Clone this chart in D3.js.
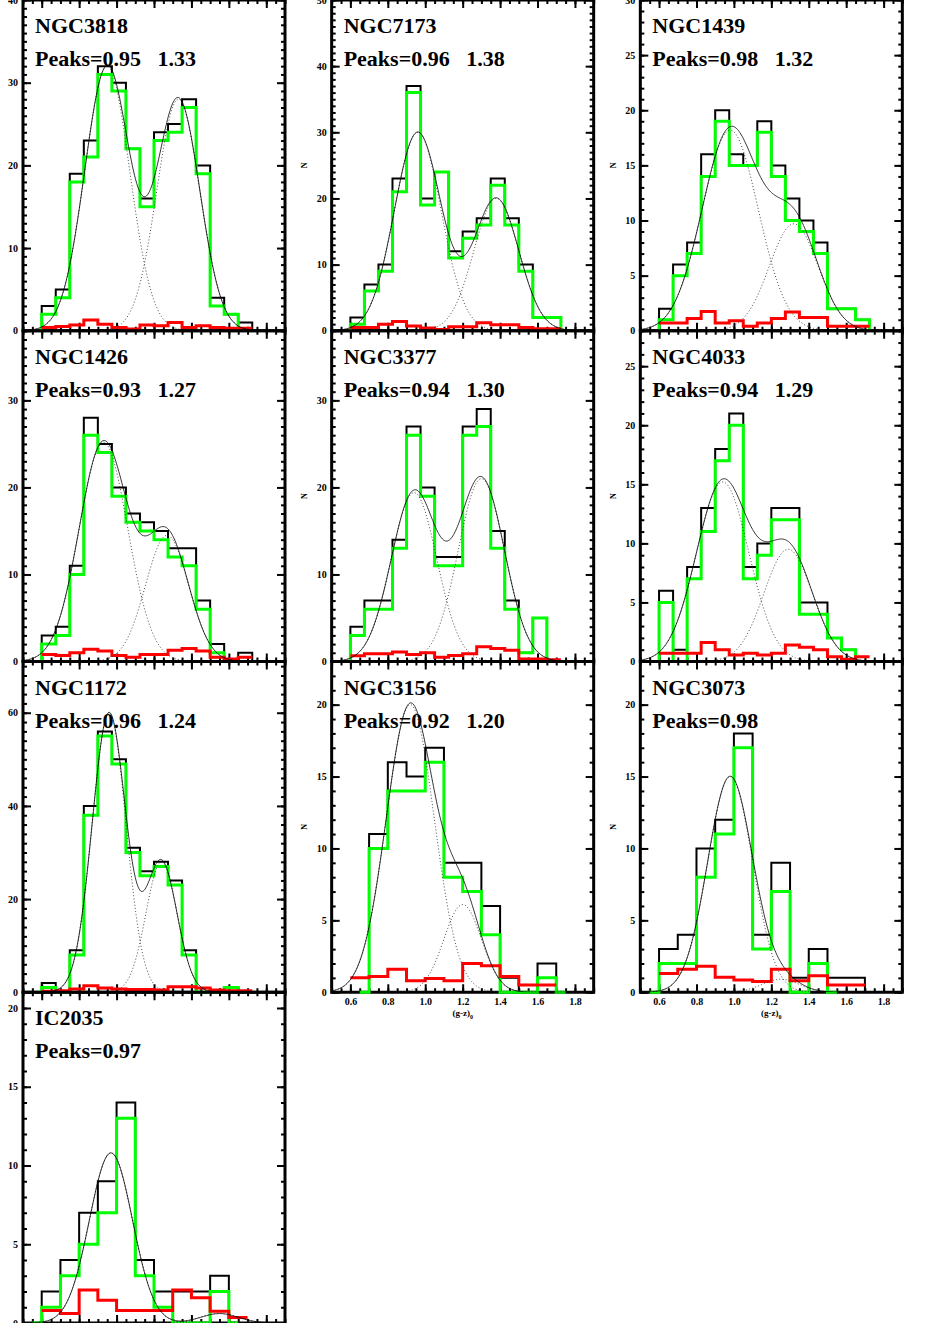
<!DOCTYPE html>
<html>
<head>
<meta charset="utf-8">
<script src="https://cdn.jsdelivr.net/npm/d3@7"></script>
<style>
body { margin: 0; background: #fff; }
svg { display: block; }
text { font-family: "Liberation Serif", "Times New Roman", serif; font-weight: bold; }
</style>
</head>
<body>
<svg id="chart"></svg>
<script>
// galaxies, in panel order (left to right, top to bottom)
var galaxies = ["NGC3818", "NGC7173", "NGC1439", "NGC1426", "NGC3377", "NGC4033",
                "NGC1172", "NGC3156", "NGC3073", "IC2035"];
var peakLabels = ["0.95   1.33", "0.96   1.38", "0.98   1.32", "0.93   1.27", "0.94   1.30",
                  "0.94   1.29", "0.96   1.24", "0.92   1.20", "0.98", "0.97"];

var xDomain = [0.5, 1.9];
var xMajor = [0.6, 0.8, 1.0, 1.2, 1.4, 1.6, 1.8];
var yMax = [40, 50, 30, 38, 38, 28, 71, 23, 23, 21];
var yStep = [10, 10, 5, 10, 10, 5, 20, 5, 5, 5];

var binWidth = [0.075, 0.075, 0.075, 0.075, 0.075, 0.075, 0.075, 0.1, 0.1, 0.1];
var totalLo = [0.6, 0.6, 0.6, 0.6, 0.6, 0.6, 0.6, 0.7, 0.6, 0.6];
var cleanLo = [0.6, 0.6, 0.6, 0.6, 0.6, 0.6, 0.6, 0.7, 0.6, 0.6];
var contamLo = [0.6, 0.6, 0.6, 0.6, 0.6, 0.6, 0.6, 0.6, 0.6, 0.6];

// black: all candidates
var totalCounts = [
  [3, 5, 19, 23, 32, 30, 22, 16, 24, 25, 28, 20, 4, 2, 1],
  [2, 7, 10, 23, 37, 20, 24, 12, 15, 17, 23, 17, 10, 2, 2],
  [2, 6, 8, 16, 20, 16, 15, 19, 15, 12, 10, 8, 2, 2, 1],
  [3, 4, 11, 28, 25, 20, 17, 16, 15, 13, 13, 7, 2, 0, 1],
  [4, 7, 7, 14, 27, 20, 12, 12, 27, 29, 15, 7, 1, 5],
  [6, 1, 8, 13, 18, 21, 8, 10, 13, 13, 5, 5, 2, 1],
  [2, 0, 9, 40, 56, 50, 31, 26, 28, 24, 9, 0, 0, 1],
  [11, 16, 15, 17, 9, 9, 6, 1, 0, 2],
  [3, 4, 10, 12, 18, 4, 9, 1, 3, 1, 1],
  [2, 4, 7, 9, 14, 4, 2, 2, 2, 3]
];
// green
var cleanCounts = [
  [2, 4, 18, 21, 31, 29, 22, 15, 23, 24, 27, 19, 3, 2],
  [1, 6, 9, 21, 36, 19, 24, 11, 14, 16, 22, 16, 9, 2, 2],
  [1, 5, 7, 14, 19, 15, 15, 18, 14, 10, 9, 7, 2, 2, 1],
  [2, 3, 10, 26, 24, 19, 16, 15, 14, 12, 11, 6, 1],
  [3, 6, 6, 13, 26, 19, 11, 11, 26, 27, 13, 6, 1, 5],
  [5, 0, 7, 11, 17, 20, 7, 9, 12, 12, 4, 4, 2, 1],
  [1, 0, 8, 38, 55, 49, 30, 25, 27, 23, 8, 0, 0, 1],
  [10, 14, 14, 16, 8, 7, 4, 0, 0, 1],
  [2, 2, 8, 11, 17, 3, 7, 0, 2],
  [1, 3, 5, 7, 13, 3, 1, 0, 0, 2]
];
// red
var contamCounts = [
  [0.4, 0.5, 0.7, 1.3, 0.8, 0.4, 0.2, 0.7, 0.6, 1.0, 0.4, 0.6, 0.4, 0.3, 0.3],
  [0.5, 0.5, 1.0, 1.4, 0.7, 0.4, 0.2, 0.6, 0.6, 1.2, 0.9, 0.9, 0.5, 0.3, 0.3],
  [0.7, 0.7, 1.1, 1.75, 0.7, 0.9, 0.4, 0.7, 1.1, 1.7, 1.2, 1.2, 0.4, 0.4, 0.4],
  [0.8, 0.7, 1.0, 1.4, 1.2, 0.7, 0.5, 0.8, 0.8, 1.3, 1.5, 1.2, 0.5, 0.3, 0.5],
  [0.65, 0.9, 0.9, 1.1, 0.8, 1.0, 0.5, 0.7, 0.9, 1.7, 1.5, 1.3, 0.3, 0.3, 0.2],
  [0.7, 0.7, 0.7, 1.6, 1.0, 0.55, 0.7, 0.55, 0.7, 1.4, 1.2, 1.0, 0.4, 0.2, 0.4],
  [0.2, 0.3, 0.7, 1.4, 0.9, 0.7, 0.6, 0.6, 0.5, 1.2, 1.2, 0.9, 0.5, 0.3, 0.3],
  [1.0, 1.1, 1.6, 0.8, 0.95, 0.8, 2.0, 1.85, 1.1, 0.5, 0.5],
  [1.3, 1.6, 1.8, 1.05, 0.85, 0.75, 1.6, 0.8, 1.15, 0.5, 0.5],
  [0.8, 0.6, 2.1, 1.45, 0.8, 0.8, 0.8, 2.1, 1.6, 0.75, 0.35]
];

// two-gaussian fits: mean, amplitude, sigma
var gaussMu = [[0.95, 1.33], [0.96, 1.38], [0.98, 1.32], [0.93, 1.27], [0.94, 1.30],
               [0.94, 1.29], [0.96, 1.24], [0.92, 1.20], [0.98, 1.25], [0.97, 1.55]];
var gaussAmp = [[32, 28], [30, 20], [18.2, 9.7], [25.2, 14.5], [19.4, 21],
                [15.2, 9.5], [60, 28], [20, 6.1], [15, 0.9], [10.8, 0.6]];
var gaussSig = [[0.12, 0.115], [0.125, 0.12], [0.15, 0.13], [0.13, 0.115], [0.122, 0.124],
                [0.14, 0.13], [0.09, 0.083], [0.128, 0.1], [0.12, 0.1], [0.115, 0.1]];

var W = 926, H = 1323,
    colW = W / 3, rowH = H / 4,
    padL = 23, pw = 262;

var svg = d3.select("#chart")
    .attr("width", W)
    .attr("height", H);

function stepPath(lo, w, vals, closed, tail, x, y) {
    var p = d3.path(), n = vals.length, hi = lo + w * n;
    if (closed) {
        p.moveTo(x(lo - tail), y(0));
        p.lineTo(x(lo), y(0));
        p.lineTo(x(lo), y(vals[0]));
    } else {
        p.moveTo(x(lo), y(vals[0]));
    }
    vals.forEach(function(v, k) {
        var e = x(lo + w * (k + 1));
        p.lineTo(e, y(v));
        if (k < n - 1) p.lineTo(e, y(vals[k + 1]));
    });
    if (closed) {
        p.lineTo(x(hi), y(0));
        p.lineTo(x(hi + tail), y(0));
    }
    return p.toString();
}

function gauss(t, mu, a, s) {
    return a * Math.exp(-(t - mu) * (t - mu) / (2 * s * s));
}

function tickStyle(sel) {
    sel.select(".domain").remove();
    sel.selectAll(".tick line").attr("stroke", "#000").attr("stroke-width", 2);
    sel.attr("font-family", null).attr("font-size", 10);
}

var xs = d3.range(0.5, 1.9001, 0.004);

galaxies.forEach(function(name, i) {
    var col = i % 3, row = Math.floor(i / 3);
    var left = col * colW + padL, top = row * rowH;
    var showX = (i === 7 || i === 8);

    var x = d3.scaleLinear().domain(xDomain).range([0, pw]);
    var y = d3.scaleLinear().domain([0, yMax[i]]).range([rowH, 0]);

    var g = svg.append("g")
        .attr("transform", "translate(" + left + "," + top + ")");

    g.append("clipPath").attr("id", "clip" + i)
        .append("rect").attr("width", pw).attr("height", rowH);

    var yMaj = d3.range(0, yMax[i] + 1e-6, yStep[i]);
    var yMin = d3.range(0, yMax[i] + 1e-6, yStep[i] > 10 ? 2 : 1);
    var xMin = d3.range(0.5, 1.9001, 0.05);

    // axes on four sides, ticks pointing inward
    g.append("g").call(d3.axisLeft(y).tickValues(yMaj).tickSize(-8).tickPadding(5).tickFormat(d3.format("d"))).call(tickStyle);
    g.append("g").call(d3.axisLeft(y).tickValues(yMin).tickSize(-4).tickFormat("")).call(tickStyle);
    g.append("g").attr("transform", "translate(" + pw + ",0)")
        .call(d3.axisRight(y).tickValues(yMaj).tickSize(-8).tickFormat("")).call(tickStyle);
    g.append("g").attr("transform", "translate(" + pw + ",0)")
        .call(d3.axisRight(y).tickValues(yMin).tickSize(-4).tickFormat("")).call(tickStyle);
    g.append("g").attr("transform", "translate(0," + rowH + ")")
        .call(d3.axisBottom(x).tickValues(xMajor).tickSize(-8).tickPadding(6)
            .tickFormat(showX ? d3.format(".1f") : "")).call(tickStyle);
    g.append("g").attr("transform", "translate(0," + rowH + ")")
        .call(d3.axisBottom(x).tickValues(xMin).tickSize(-4).tickFormat("")).call(tickStyle);
    g.append("g").call(d3.axisTop(x).tickValues(xMajor).tickSize(-8).tickFormat("")).call(tickStyle);
    g.append("g").call(d3.axisTop(x).tickValues(xMin).tickSize(-4).tickFormat("")).call(tickStyle);

    g.append("rect")
        .attr("width", pw).attr("height", rowH)
        .attr("fill", "none").attr("stroke", "#000").attr("stroke-width", 3);

    // axis titles
    g.append("text")
        .attr("transform", "translate(" + (-24.7) + "," + (rowH / 2) + ") rotate(-90)")
        .attr("text-anchor", "middle")
        .attr("font-size", 8)
        .text("N");

    if (showX) {
        var xt = g.append("text")
            .attr("x", pw / 2)
            .attr("y", rowH + 24)
            .attr("text-anchor", "middle")
            .attr("font-size", 9);
        xt.append("tspan").text("(g-z)");
        xt.append("tspan").attr("dy", 2.5).attr("font-size", 6).text("0");
    }

    // histograms
    var w = binWidth[i], tail = w > 0.08 ? w / 2 : 0;
    g.append("path")
        .attr("d", stepPath(totalLo[i], w, totalCounts[i], true, 0, x, y))
        .attr("fill", "none").attr("stroke", "#000").attr("stroke-width", 2);
    g.append("path")
        .attr("d", stepPath(cleanLo[i], w, cleanCounts[i], true, tail, x, y))
        .attr("fill", "none").attr("stroke", "#00ff00").attr("stroke-width", 3);
    g.append("path")
        .attr("d", stepPath(contamLo[i], w, contamCounts[i], false, 0, x, y))
        .attr("fill", "none").attr("stroke", "#ff0000").attr("stroke-width", 3);

    // gaussian fit: components dotted, sum solid
    var curves = g.append("g").attr("clip-path", "url(#clip" + i + ")");
    [0, 1].forEach(function(c) {
        curves.append("path")
            .datum(xs)
            .attr("d", d3.line()
                .x(function(t) { return x(t); })
                .y(function(t) { return y(gauss(t, gaussMu[i][c], gaussAmp[i][c], gaussSig[i][c])); }))
            .attr("fill", "none").attr("stroke", "#333")
            .attr("stroke-width", 0.9).attr("stroke-dasharray", "1,2.2");
    });
    curves.append("path")
        .datum(xs)
        .attr("d", d3.line()
            .x(function(t) { return x(t); })
            .y(function(t) {
                return y(gauss(t, gaussMu[i][0], gaussAmp[i][0], gaussSig[i][0]) +
                         gauss(t, gaussMu[i][1], gaussAmp[i][1], gaussSig[i][1]));
            }))
        .attr("fill", "none").attr("stroke", "#000").attr("stroke-width", 0.8);

    // labels
    g.append("text")
        .attr("x", 12).attr("y", 33)
        .attr("font-size", 22)
        .text(name);
    g.append("text")
        .attr("x", 12).attr("y", 66)
        .attr("font-size", 22)
        .style("white-space", "pre")
        .text("Peaks=" + peakLabels[i]);
});
</script>
</body>
</html>
